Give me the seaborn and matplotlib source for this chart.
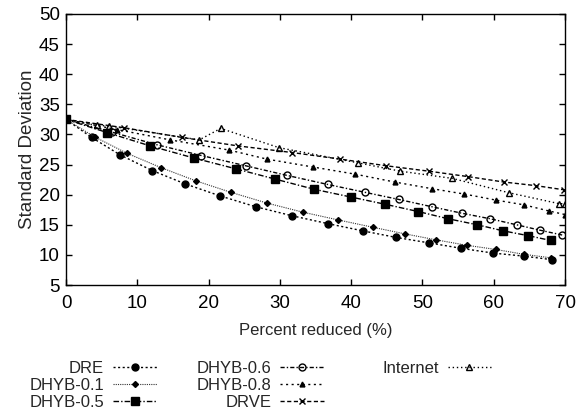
import matplotlib
matplotlib.use("Agg")
import matplotlib.pyplot as plt
import seaborn as sns
import pandas as pd
from matplotlib.lines import Line2D

# ---- data ----
dre_x = [0, 3.6, 7.6, 12.1, 16.7, 21.6, 26.6, 31.7, 36.7, 41.6, 46.3, 50.9, 55.4, 59.9, 64.2, 68.2]
dre_y = [32.5, 29.5, 26.6, 24.0, 21.8, 19.8, 18.0, 16.5, 15.2, 14.0, 12.9, 12.0, 11.1, 10.3, 9.8, 9.2]

h01_x = [0, 4.0, 8.5, 13.3, 18.2, 23.1, 28.2, 33.2, 38.2, 43.0, 47.5, 51.9, 56.2, 60.3, 64.2, 68.1]
h01_y = [32.5, 29.6, 26.9, 24.5, 22.3, 20.4, 18.6, 17.1, 15.8, 14.6, 13.5, 12.5, 11.6, 10.9, 10.1, 9.5]

h05_x = [0, 5.8, 11.8, 17.9, 23.8, 29.3, 34.8, 40.0, 44.8, 49.4, 53.6, 57.7, 61.3, 64.8, 68.0]
h05_y = [32.5, 30.3, 28.1, 26.1, 24.3, 22.6, 20.9, 19.6, 18.4, 17.2, 16.0, 15.0, 14.0, 13.2, 12.4]

h06_x = [0, 6.4, 12.7, 19.0, 25.2, 31.0, 36.7, 41.9, 46.7, 51.3, 55.6, 59.5, 63.2, 66.5, 69.6]
h06_y = [32.5, 30.4, 28.3, 26.5, 24.8, 23.2, 21.7, 20.4, 19.2, 18.0, 16.9, 16.0, 15.0, 14.1, 13.3]

h08_x = [0, 7.2, 14.6, 22.9, 28.2, 34.6, 40.6, 46.1, 51.3, 55.9, 60.3, 64.3, 67.7, 70.0]
h08_y = [32.5, 30.8, 29.1, 27.4, 25.9, 24.6, 23.4, 22.1, 21.0, 20.1, 19.1, 18.3, 17.3, 16.7]

drve_x = [0, 8.2, 16.3, 24.1, 31.7, 38.5, 44.9, 50.9, 56.4, 61.4, 65.9, 69.9]
drve_y = [32.5, 31.1, 29.5, 28.1, 27.0, 25.9, 24.8, 23.9, 23.0, 22.1, 21.5, 20.8]

inet_x = [0, 4.3, 6.1, 18.7, 21.7, 29.9, 40.9, 46.9, 54.2, 62.2, 69.2, 70.0]
inet_y = [32.5, 31.5, 31.4, 29.1, 31.0, 27.8, 25.3, 23.9, 22.7, 20.3, 18.5, 18.5]

x_ticks = [0, 10, 20, 30, 40, 50, 60, 70]
y_ticks = [5, 10, 15, 20, 25, 30, 35, 40, 45, 50]

series = [
    ("DRE", dre_x, dre_y),
    ("DHYB-0.1", h01_x, h01_y),
    ("DHYB-0.5", h05_x, h05_y),
    ("DHYB-0.6", h06_x, h06_y),
    ("DHYB-0.8", h08_x, h08_y),
    ("DRVE", drve_x, drve_y),
    ("Internet", inet_x, inet_y),
]

styles = {
    "DRE": dict(marker="o", ms=5, mfc="black", ls=(0, (1.5, 1.8)), color="black", lw=1.0),
    "DHYB-0.1": dict(marker="D", ms=3, mfc="black", ls=(0, (1, 1)), color="#333333", lw=0.8),
    "DHYB-0.5": dict(marker="s", ms=6, mfc="black", ls=(0, (4, 1.5, 1, 1.5)), color="black", lw=1.0),
    "DHYB-0.6": dict(marker="o", ms=5, mfc="none", ls=(0, (3, 1.5, 1, 1.5)), color="black", lw=1.0),
    "DHYB-0.8": dict(marker="^", ms=3.5, mfc="black", ls=(0, (1.5, 2.5)), color="black", lw=1.0),
    "DRVE": dict(marker="x", ms=5, mfc="black", ls=(0, (3, 1.8)), color="black", lw=1.0),
    "Internet": dict(marker="^", ms=5, mfc="none", ls=(0, (1, 2)), color="black", lw=1.0),
}

sns.set_style("ticks")
plt.rcParams["font.family"] = ["Liberation Sans", "DejaVu Sans"]

fig = plt.figure(figsize=(5.88, 4.17), dpi=100)
ax = fig.add_axes([66 / 588, 1 - 285 / 417, (565 - 66) / 588, (285 - 14) / 417])

handles = {}
for name, xs, ys in series:
    df = pd.DataFrame({"x": xs, "y": ys})
    st = styles[name]
    sns.lineplot(data=df, x="x", y="y", ax=ax, color=st["color"], linestyle=st["ls"],
                 linewidth=st["lw"], marker=st["marker"], markersize=st["ms"],
                 markerfacecolor=st["mfc"], markeredgecolor="black", markeredgewidth=1.0,
                 sort=False, estimator=None, legend=False)
    handles[name] = Line2D([], [], color=st["color"], linestyle=st["ls"], linewidth=st["lw"],
                           marker=st["marker"], markersize=st["ms"], markerfacecolor=st["mfc"],
                           markeredgecolor="black", markeredgewidth=1.0)

ax.set_xlim(0, 70)
ax.set_ylim(5, 50)
ax.set_xticks(x_ticks)
ax.set_yticks(y_ticks)
for s in ax.spines.values():
    s.set_visible(True)
    s.set_linewidth(1.0)
    s.set_color("black")
ax.tick_params(direction="in", length=4, width=1, top=True, right=True, labelsize=13.5,
               colors="black")
ax.tick_params(axis="x", pad=7)
ax.tick_params(axis="y", pad=4.5)
ax.set_xlabel("Percent reduced (%)", fontsize=12, labelpad=8)
ax.set_ylabel("Standard Deviation", fontsize=13.5, labelpad=2)

blank = Line2D([], [], linestyle="none")
order = ["DRE", "DHYB-0.1", "DHYB-0.5", "DHYB-0.6", "DHYB-0.8", "DRVE", "Internet"]
hs = [handles[n] for n in order] + [blank, blank]
ls = order + ["DHYB-0.6", "DHYB-0.6"]
leg = fig.legend(hs, ls, ncol=3, markerfirst=False, frameon=False, fontsize=12,
                 loc="upper right", bbox_to_anchor=(491 / 588, 1 - 361 / 417),
                 handlelength=2.6, handletextpad=0.55, columnspacing=2.4,
                 labelspacing=0.12, borderpad=0, borderaxespad=0)
texts = leg.get_texts()
texts[7].set_color("none")
texts[8].set_color("none")

fig.savefig("out.png", dpi=100)
